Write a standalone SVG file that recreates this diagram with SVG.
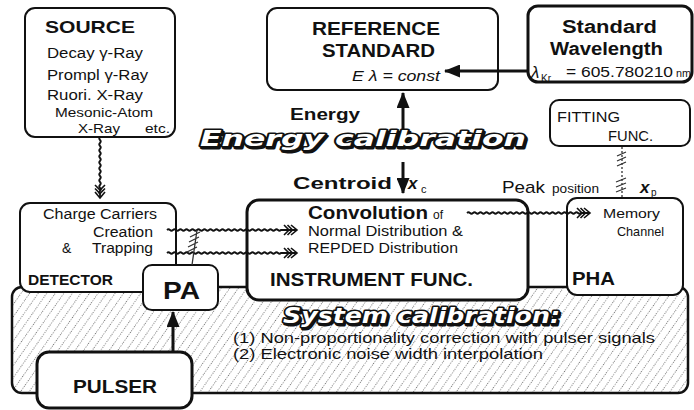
<svg xmlns="http://www.w3.org/2000/svg" width="694" height="410" viewBox="0 0 694 410">
<style>
.box{fill:#fff;stroke:#111;stroke-width:2}
.thick{stroke-width:3}
.t{font-family:"Liberation Sans",Arial,sans-serif;fill:#111}
.b{font-weight:bold}
.i{font-style:italic}
.big{font-family:"DejaVu Sans","Liberation Sans",sans-serif;font-weight:bold;font-style:italic;font-size:21px;fill:#fff;stroke:#111;stroke-width:3;paint-order:stroke;stroke-linejoin:round}
.shadow{font-family:"DejaVu Sans","Liberation Sans",sans-serif;font-weight:bold;font-style:italic;font-size:21px;fill:#111;stroke:#111;stroke-width:3;stroke-linejoin:round}
.wave{fill:none;stroke:#111;stroke-width:1.8}
.solid{fill:none;stroke:#111;stroke-width:3}
.hatch{fill:none;stroke:#333;stroke-width:1.3}
</style>
<defs>
<pattern id="dots" width="7" height="7" patternUnits="userSpaceOnUse" patternTransform="rotate(-55)">
<rect width="7" height="7" fill="#fff"/>
<line x1="0" y1="3.5" x2="7" y2="3.5" stroke="#555" stroke-width="0.8" stroke-dasharray="1 1.5"/>
</pattern>
<marker id="ha" markerUnits="userSpaceOnUse" markerWidth="14" markerHeight="12" refX="13" refY="6" orient="auto" overflow="visible">
<path d="M0,1 L5,6 L0,11 M3.5,1 L8.5,6 L3.5,11 M7,1 L13,6 L7,11" fill="none" stroke="#111" stroke-width="1.6"/>
</marker>
<marker id="sa" markerUnits="userSpaceOnUse" markerWidth="16" markerHeight="13" refX="15" refY="6.5" orient="auto">
<path d="M0,0 L16,6.5 L0,13 z" fill="#111"/>
</marker>
</defs>

<g id="system-calibration">
<rect x="12" y="287" width="676" height="106" rx="10" fill="url(#dots)" stroke="#111" stroke-width="2.5"/>
<text class="shadow" x="284.5" y="324.5" textLength="277" lengthAdjust="spacingAndGlyphs">System calibration:</text>
<text class="big" x="283" y="323" textLength="277" lengthAdjust="spacingAndGlyphs">System calibration:</text>
<text class="t" x="233" y="343" font-size="15" textLength="422" lengthAdjust="spacingAndGlyphs">(1) Non-proportionality correction with pulser signals</text>
<text class="t" x="233" y="359" font-size="15" textLength="310" lengthAdjust="spacingAndGlyphs">(2) Electronic noise width interpolation</text>
</g>

<g id="source">
<rect class="box" x="25" y="8" width="150" height="129" rx="10"/>
<text class="t b" x="45" y="33" font-size="17" textLength="90" lengthAdjust="spacingAndGlyphs">SOURCE</text>
<text class="t" x="47" y="58" font-size="14" textLength="96" lengthAdjust="spacingAndGlyphs">Decay γ-Ray</text>
<text class="t" x="47" y="80" font-size="14" textLength="101" lengthAdjust="spacingAndGlyphs">Prompl γ-Ray</text>
<text class="t" x="47" y="100" font-size="14" textLength="96" lengthAdjust="spacingAndGlyphs">Ruori. X-Ray</text>
<text class="t" x="55" y="117" font-size="13" textLength="98" lengthAdjust="spacingAndGlyphs">Mesonic-Atom</text>
<text class="t" x="78" y="133" font-size="13" textLength="42" lengthAdjust="spacingAndGlyphs">X-Ray</text>
<text class="t" x="145" y="133" font-size="13" textLength="25" lengthAdjust="spacingAndGlyphs">etc.</text>
</g>

<g id="reference-standard">
<rect class="box" x="267" y="8" width="231" height="82" rx="10"/>
<text class="t b" x="312" y="35" font-size="18" textLength="128" lengthAdjust="spacingAndGlyphs">REFERENCE</text>
<text class="t b" x="322" y="57" font-size="18" textLength="113" lengthAdjust="spacingAndGlyphs">STANDARD</text>
<text class="t i" x="352" y="81" font-size="14" textLength="88" lengthAdjust="spacingAndGlyphs">E λ = const</text>
</g>

<g id="standard-wavelength">
<rect class="box thick" x="528" y="6" width="164" height="76" rx="10"/>
<text class="t b" x="562" y="33" font-size="18" textLength="95" lengthAdjust="spacingAndGlyphs">Standard</text>
<text class="t b" x="550" y="55" font-size="18" textLength="113" lengthAdjust="spacingAndGlyphs">Wavelength</text>
<text class="t i" x="531" y="78" font-size="17">λ</text>
<text class="t" x="541" y="82" font-size="10">Kr</text>
<text class="t" x="566" y="77" font-size="14" textLength="107" lengthAdjust="spacingAndGlyphs">= 605.780210</text>
<text class="t" x="676" y="77" font-size="11" textLength="15" lengthAdjust="spacingAndGlyphs">nm</text>
</g>

<g id="fitting-func">
<rect class="box" x="550" y="100" width="140" height="46" rx="9" stroke-width="1.5"/>
<text class="t" x="557" y="122" font-size="14" textLength="63" lengthAdjust="spacingAndGlyphs">FITTING</text>
<text class="t" x="608" y="141" font-size="14" textLength="45" lengthAdjust="spacingAndGlyphs">FUNC.</text>
</g>

<g id="labels">
<text class="t b" x="290" y="120" font-size="17" textLength="70" lengthAdjust="spacingAndGlyphs">Energy</text>
<text class="shadow" x="201.5" y="147.5" textLength="326" lengthAdjust="spacingAndGlyphs">Energy calibration</text>
<text class="big" x="200" y="146" textLength="326" lengthAdjust="spacingAndGlyphs">Energy calibration</text>
<text class="t b" x="293" y="189" font-size="17" textLength="99" lengthAdjust="spacingAndGlyphs">Centroid</text>
<text class="t b i" x="408" y="189" font-size="17">x</text>
<text class="t" x="421" y="193" font-size="11">c</text>
<text class="t" x="502" y="193" font-size="17" textLength="43" lengthAdjust="spacingAndGlyphs">Peak</text>
<text class="t" x="552" y="193" font-size="13" textLength="47" lengthAdjust="spacingAndGlyphs">position</text>
<text class="t b i" x="640" y="193" font-size="17">x</text>
<text class="t" x="651" y="196" font-size="10">p</text>
</g>

<g id="detector">
<rect class="box" x="20" y="203" width="156" height="89" rx="10"/>
<text class="t" x="43" y="219" font-size="14" textLength="114" lengthAdjust="spacingAndGlyphs">Charge Carriers</text>
<text class="t" x="93" y="237" font-size="14" textLength="60" lengthAdjust="spacingAndGlyphs">Creation</text>
<text class="t" x="62" y="253" font-size="14">&amp;</text>
<text class="t" x="92" y="253" font-size="14" textLength="61" lengthAdjust="spacingAndGlyphs">Trapping</text>
<text class="t b" x="28" y="285" font-size="15" textLength="85" lengthAdjust="spacingAndGlyphs">DETECTOR</text>
</g>

<g id="instrument-func">
<rect class="box thick" x="247" y="200" width="281" height="100" rx="12"/>
<text class="t b" x="308" y="219" font-size="19" textLength="120" lengthAdjust="spacingAndGlyphs">Convolution</text>
<text class="t" x="433" y="219" font-size="12">of</text>
<text class="t" x="308" y="236" font-size="14" textLength="155" lengthAdjust="spacingAndGlyphs">Normal Distribution &amp;</text>
<text class="t" x="308" y="253" font-size="14" textLength="150" lengthAdjust="spacingAndGlyphs">REPDED Distribution</text>
<text class="t b" x="270" y="286" font-size="18" textLength="203" lengthAdjust="spacingAndGlyphs">INSTRUMENT FUNC.</text>
</g>

<g id="pha">
<rect class="box" x="567" y="198" width="116" height="97" rx="10"/>
<text class="t" x="603" y="218" font-size="13" textLength="57" lengthAdjust="spacingAndGlyphs">Memory</text>
<text class="t" x="617" y="236" font-size="13" textLength="47" lengthAdjust="spacingAndGlyphs">Channel</text>
<text class="t b" x="572" y="285" font-size="18" textLength="43" lengthAdjust="spacingAndGlyphs">PHA</text>
</g>

<g id="pa">
<rect class="box" x="143" y="265" width="75" height="45" rx="9" stroke-width="2.5"/>
<text class="t b" x="163" y="299" font-size="24" textLength="37" lengthAdjust="spacingAndGlyphs">PA</text>
</g>

<g id="pulser">
<rect class="box thick" x="37" y="352" width="155" height="56" rx="12"/>
<text class="t b" x="73" y="393" font-size="19" textLength="84" lengthAdjust="spacingAndGlyphs">PULSER</text>
</g>

<g id="connectors">
<path class="wave" marker-end="url(#ha)" d="M100,137 q-1.5,1.5 0,3 t0,3 t0,3 t0,3 t0,3 t0,3 t0,3 t0,3 t0,3 t0,3 t0,3 t0,3 t0,3 t0,3 t0,3 t0,3 t0,3 t0,3 t0,3 L100,198"/>
<path class="solid" marker-end="url(#sa)" d="M528,71 L445,71"/>
<path class="solid" marker-end="url(#sa)" d="M403,130 L403,93"/>
<path class="solid" marker-end="url(#sa)" d="M403,162 L403,193"/>
<path class="wave" marker-end="url(#ha)" d="M167,230 q1.5,-1.5 3,0 t3,0 t3,0 t3,0 t3,0 t3,0 t3,0 t3,0 t3,0 t3,0 t3,0 t3,0 t3,0 t3,0 t3,0 t3,0 t3,0 t3,0 t3,0 t3,0 t3,0 t3,0 t3,0 t3,0 t3,0 t3,0 t3,0 t3,0 t3,0 t3,0 t3,0 t3,0 t3,0 t3,0 t3,0 t3,0 t3,0 t3,0 L297,230"/>
<path class="wave" marker-end="url(#ha)" d="M167,253 q1.5,-1.5 3,0 t3,0 t3,0 t3,0 t3,0 t3,0 t3,0 t3,0 t3,0 t3,0 t3,0 t3,0 t3,0 t3,0 t3,0 t3,0 t3,0 t3,0 t3,0 t3,0 t3,0 t3,0 t3,0 t3,0 t3,0 t3,0 t3,0 t3,0 t3,0 t3,0 t3,0 t3,0 t3,0 t3,0 t3,0 t3,0 t3,0 t3,0 L297,253"/>
<path class="wave" marker-end="url(#ha)" d="M467,213 q1.5,-1.5 3,0 t3,0 t3,0 t3,0 t3,0 t3,0 t3,0 t3,0 t3,0 t3,0 t3,0 t3,0 t3,0 t3,0 t3,0 t3,0 t3,0 t3,0 t3,0 t3,0 t3,0 t3,0 t3,0 t3,0 t3,0 t3,0 t3,0 t3,0 t3,0 t3,0 t3,0 t3,0 t3,0 t3,0 t3,0 t3,0 t3,0 t3,0 L590,213"/>
<path class="hatch" d="M192,265 L197,230 M187,252 l10,-5 M188,247 l10,-5 M189,242 l10,-5 M190,237 l10,-5"/>
<path class="solid" marker-end="url(#sa)" d="M173,352 L173,312"/>
<path class="hatch" stroke-dasharray="2 2" d="M622,147 L622,198"/>
<path class="hatch" d="M617,156 l9,-4 M617,161 l9,-4 M617,166 l9,-4 M616,182 l10,-4 M616,187 l10,-4 M616,192 l10,-4"/>
</g>
</svg>
